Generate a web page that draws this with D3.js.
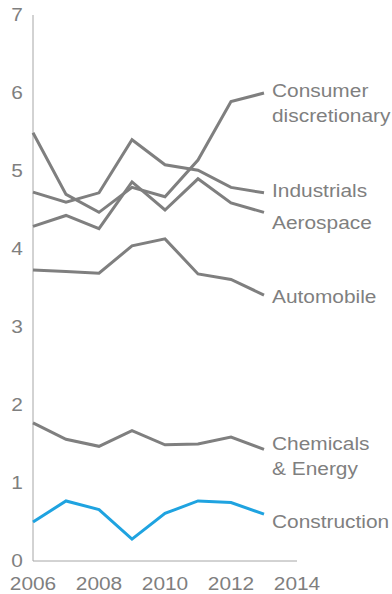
<!DOCTYPE html>
<html>
<head>
<meta charset="utf-8">
<script src="https://cdn.jsdelivr.net/npm/d3@7"></script>
<style>
  html, body { margin: 0; padding: 0; background: #fff; }
  svg { display: block; }
  text { font-family: "Liberation Sans", Arial, sans-serif; }
</style>
</head>
<body>
<svg id="chart" width="392" height="594"></svg>
<script>
const years = [2006, 2007, 2008, 2009, 2010, 2011, 2012, 2013];
const consumer = [5.49, 4.70, 4.47, 4.79, 4.67, 5.14, 5.89, 6.00];
const industrials = [4.73, 4.60, 4.72, 5.40, 5.08, 5.01, 4.79, 4.72];
const aerospace = [4.29, 4.43, 4.26, 4.86, 4.50, 4.90, 4.59, 4.47];
const automobile = [3.73, 3.71, 3.69, 4.04, 4.13, 3.68, 3.61, 3.41];
const chemicals = [1.77, 1.56, 1.47, 1.67, 1.49, 1.50, 1.59, 1.43];
const construction = [0.50, 0.77, 0.66, 0.28, 0.61, 0.77, 0.75, 0.60];
const seriesNames = [["Consumer", "discretionary"], ["Industrials"], ["Aerospace"], ["Automobile"], ["Chemicals", "& Energy"], ["Construction"]];
const yTicks = [0, 1, 2, 3, 4, 5, 6, 7];
const xTicks = [2006, 2008, 2010, 2012, 2014];

const seriesValues = [consumer, industrials, aerospace, automobile, chemicals, construction];
const seriesColors = ["#7f7f7f", "#7f7f7f", "#7f7f7f", "#7f7f7f", "#7f7f7f", "#1fa3e0"];
// label baseline offsets (px) from the line's last point
const labelDy = [4.3, 4.6, 16.6, 7.7, 1.0, 13.3];

const svg = d3.select("#chart");
const x = d3.scaleLinear().domain([2006, 2014]).range([33, 297]);
const y = d3.scaleLinear().domain([0, 7]).range([561, 15]);
const SX = 1.13, FS = 18.5, textColor = "#7f7f7f";

function addText(g, tx, ty, str, anchor) {
  return g.append("text")
    .attr("transform", `translate(${tx},${ty}) scale(${SX},1)`)
    .attr("text-anchor", anchor || "start")
    .attr("font-size", FS)
    .attr("fill", textColor)
    .text(str);
}

// axes lines
svg.append("line").attr("x1", x(2006)).attr("x2", x(2006)).attr("y1", y(7)).attr("y2", y(0))
  .attr("stroke", "#a6a6a6").attr("stroke-width", 1);
svg.append("line").attr("x1", x(2006)).attr("x2", x(2014)).attr("y1", y(0)).attr("y2", y(0))
  .attr("stroke", "#a6a6a6").attr("stroke-width", 1);

const gy = svg.append("g");
yTicks.forEach(t => addText(gy, 17, y(t) + 6.3, String(t), "middle"));
const gx = svg.append("g");
xTicks.forEach(t => addText(gx, x(t), 590, String(t), "middle"));

const line = d3.line().x((d, i) => x(years[i])).y(d => y(d));

seriesValues.forEach((vals, si) => {
  svg.append("path").datum(vals)
    .attr("d", line)
    .attr("fill", "none")
    .attr("stroke", seriesColors[si])
    .attr("stroke-width", 3)
    .attr("stroke-linejoin", "miter")
    .attr("stroke-linecap", "butt");
});

const gl = svg.append("g");
seriesValues.forEach((vals, si) => {
  const last = vals[vals.length - 1];
  const base = y(last) + labelDy[si];
  seriesNames[si].forEach((s, li) => addText(gl, 272, base + li * 24.5, s));
});
</script>
</body>
</html>
